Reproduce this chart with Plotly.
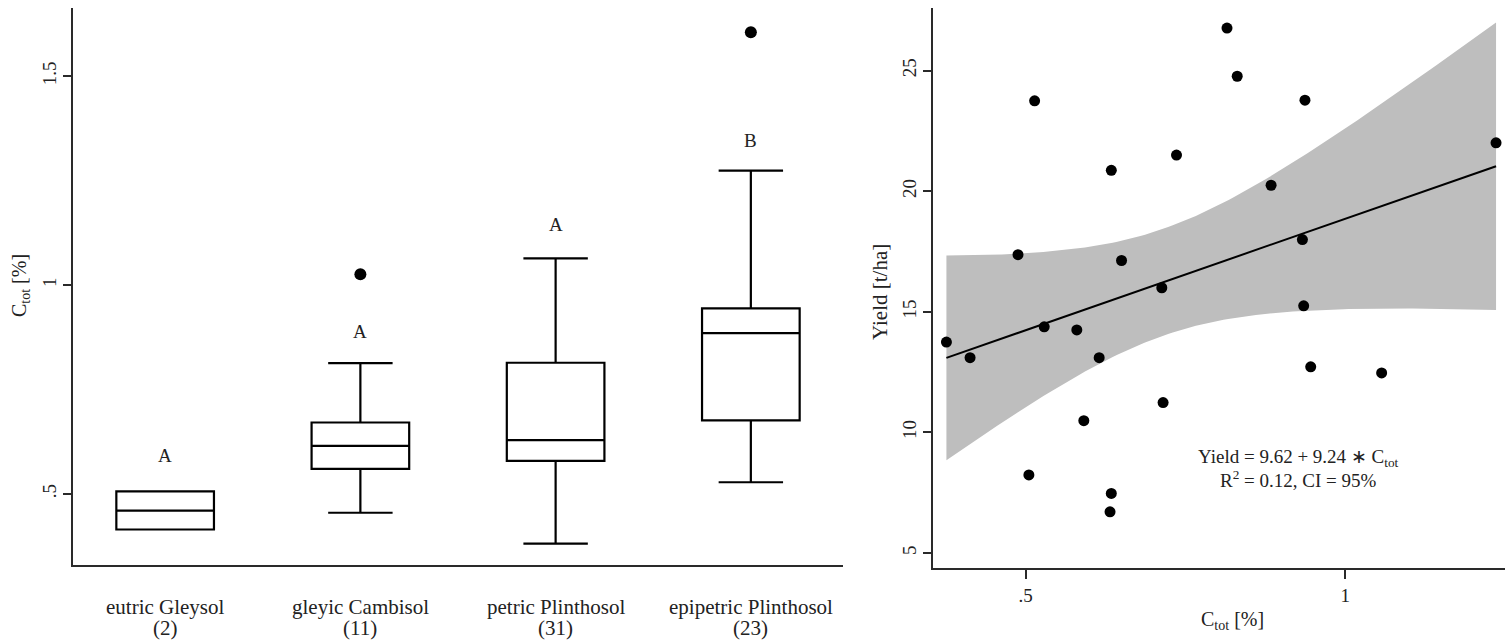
import numpy as np
import plotly.graph_objects as go

# ---------------- Left panel: C_tot by soil type ----------------
soil_types = ["eutric Gleysol", "gleyic Cambisol", "petric Plinthosol", "epipetric Plinthosol"]
sample_counts = [2, 11, 31, 23]
q1_vals = [0.415, 0.560, 0.579, 0.676]
median_vals = [0.460, 0.615, 0.629, 0.885]
q3_vals = [0.506, 0.671, 0.814, 0.944]
lower_whisker = [0.415, 0.455, 0.381, 0.528]
upper_whisker = [0.506, 0.813, 1.064, 1.274]
outlier_group = ["gleyic Cambisol", "epipetric Plinthosol"]
outlier_value = [1.026, 1.605]
group_letters = ["A", "A", "A", "B"]
letter_height = [0.592, 0.890, 1.144, 1.346]
left_ytick_vals = [0.5, 1.0, 1.5]
left_ytick_text = [".5", "1", "1.5"]

# ---------------- Right panel: Yield vs C_tot ----------------
ctot = [0.376, 0.413, 0.488, 0.505, 0.514, 0.529, 0.580, 0.591, 0.615, 0.634,
        0.634, 0.632, 0.650, 0.713, 0.715, 0.736, 0.815, 0.831, 0.884, 0.937,
        0.933, 0.935, 0.946, 1.057, 1.236]
yield_t_ha = [13.75, 13.10, 17.37, 8.24, 23.75, 14.38, 14.25, 10.49, 13.10, 20.87,
              7.47, 6.71, 17.13, 16.00, 11.24, 21.50, 26.77, 24.77, 20.25, 23.78,
              18.00, 15.25, 12.72, 12.47, 22.01]
intercept = 9.62
slope = 9.24
t_crit_95 = 2.069  # t(0.975, df=23)
right_xtick_vals = [0.5, 1.0]
right_xtick_text = [".5", "1"]
right_ytick_vals = [5, 10, 15, 20, 25]
right_ytick_text = ["5", "10", "15", "20", "25"]

# ---------------- derived fit / confidence band ----------------
xa = np.array(ctot)
ya = np.array(yield_t_ha)
n = len(xa)
resid = ya - (intercept + slope * xa)
s = np.sqrt(np.sum(resid ** 2) / (n - 2))
xbar = xa.mean()
sxx = np.sum((xa - xbar) ** 2)
xg = np.linspace(xa.min(), xa.max(), 120)
fit = intercept + slope * xg
hw = t_crit_95 * s * np.sqrt(1.0 / n + (xg - xbar) ** 2 / sxx)
upper = fit + hw
lower = fit - hw

W, H = 1505, 640
SERIF = "Liberation Serif, Times New Roman, serif"
TXT = "#222222"
AX = "#2a2a2a"

fig = go.Figure()

fig.add_trace(go.Box(
    x=soil_types, q1=q1_vals, median=median_vals, q3=q3_vals,
    lowerfence=lower_whisker, upperfence=upper_whisker,
    width=0.5, whiskerwidth=0.66, boxpoints=False,
    line=dict(color="black", width=2.2), fillcolor="white",
    xaxis="x", yaxis="y", hoverinfo="skip", showlegend=False,
))
fig.add_trace(go.Scatter(
    x=outlier_group, y=outlier_value, mode="markers",
    marker=dict(color="black", size=12), xaxis="x", yaxis="y",
    hoverinfo="skip", showlegend=False,
))

# confidence band
fig.add_trace(go.Scatter(
    x=np.concatenate([xg, xg[::-1]]), y=np.concatenate([upper, lower[::-1]]),
    fill="toself", fillcolor="#bebebe", line=dict(width=0), mode="lines",
    xaxis="x2", yaxis="y2", hoverinfo="skip", showlegend=False,
))
fig.add_trace(go.Scatter(
    x=xg, y=fit, mode="lines", line=dict(color="black", width=2),
    xaxis="x2", yaxis="y2", hoverinfo="skip", showlegend=False,
))
fig.add_trace(go.Scatter(
    x=ctot, y=yield_t_ha, mode="markers",
    marker=dict(color="black", size=11), xaxis="x2", yaxis="y2",
    hoverinfo="skip", showlegend=False,
))

tickfont = dict(family=SERIF, size=19, color=TXT)
common = dict(showgrid=False, zeroline=False, showline=True, linecolor=AX,
              linewidth=1.6, automargin=False, fixedrange=True)

annotations = []
for cat, cnt, let, lh in zip(soil_types, sample_counts, group_letters, letter_height):
    annotations.append(dict(x=cat, y=1 - 607 / H, xref="x", yref="paper", text=cat,
                            showarrow=False, font=dict(family=SERIF, size=21, color=TXT),
                            xanchor="center", yanchor="middle"))
    annotations.append(dict(x=cat, y=1 - 628 / H, xref="x", yref="paper", text=f"({cnt})",
                            showarrow=False, font=dict(family=SERIF, size=21, color=TXT),
                            xanchor="center", yanchor="middle"))
    annotations.append(dict(x=cat, y=lh, xref="x", yref="y", text=let, showarrow=False,
                            font=dict(family=SERIF, size=19, color=TXT),
                            xanchor="center", yanchor="middle"))

annotations += [
    dict(x=20 / W, y=1 - 286 / H, xref="paper", yref="paper", text="C<sub>tot</sub> [%]",
         textangle=-90, showarrow=False, font=dict(family=SERIF, size=20, color=TXT),
         xanchor="center", yanchor="middle"),
    dict(x=880 / W, y=1 - 292 / H, xref="paper", yref="paper", text="Yield [t/ha]",
         textangle=-90, showarrow=False, font=dict(family=SERIF, size=21, color=TXT),
         xanchor="center", yanchor="middle"),
    dict(x=1232 / W, y=1 - 620 / H, xref="paper", yref="paper", text="C<sub>tot</sub> [%]",
         showarrow=False, font=dict(family=SERIF, size=20, color=TXT),
         xanchor="center", yanchor="middle"),
    dict(x=1298 / W, y=1 - 458 / H, xref="paper", yref="paper",
         text=f"Yield = {intercept:.2f} + {slope:.2f} \u2217 C<sub>tot</sub>",
         showarrow=False, font=dict(family=SERIF, size=19, color=TXT),
         xanchor="center", yanchor="middle"),
    dict(x=1298 / W, y=1 - 479 / H, xref="paper", yref="paper",
         text="R<sup>2</sup> = 0.12, CI = 95%",
         showarrow=False, font=dict(family=SERIF, size=19, color=TXT),
         xanchor="center", yanchor="middle"),
]

fig.update_layout(
    width=W, height=H, margin=dict(l=0, r=0, t=0, b=0),
    paper_bgcolor="white", plot_bgcolor="white", showlegend=False,
    xaxis=dict(domain=[73 / W, 843 / W], type="category", range=[-0.472, 3.472],
               showticklabels=False, ticks="", categoryorder="array",
               categoryarray=soil_types, **common),
    yaxis=dict(domain=[1 - 565 / H, 1 - 8 / H], range=[0.330, 1.663],
               tickvals=left_ytick_vals, ticktext=left_ytick_text, tickangle=-90,
               ticks="outside", ticklen=8, tickwidth=1.5, tickcolor=AX,
               tickfont=tickfont, **common),
    xaxis2=dict(domain=[933 / W, 1.0], range=[0.355, 1.25], anchor="y2",
                tickvals=right_xtick_vals, ticktext=right_xtick_text,
                ticks="outside", ticklen=9, tickwidth=1.5, tickcolor=AX,
                tickfont=tickfont, **common),
    yaxis2=dict(domain=[1 - 568 / H, 1 - 8 / H], range=[4.38, 27.6], anchor="x2",
                tickvals=right_ytick_vals, ticktext=right_ytick_text, tickangle=-90,
                ticks="outside", ticklen=8, tickwidth=1.5, tickcolor=AX,
                tickfont=tickfont, **common),
    annotations=annotations,
)

fig.write_html(
    "out.html",
    config={"displayModeBar": False},
    post_script="document.body.style.margin='0';document.body.style.overflow='hidden';",
)
